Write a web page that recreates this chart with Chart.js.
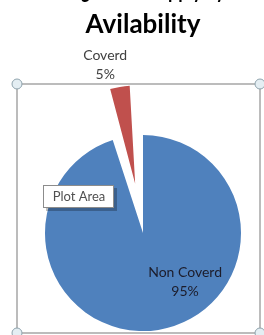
<!DOCTYPE html>
<html>
<head>
<meta charset="utf-8">
<script src="https://cdn.jsdelivr.net/npm/chart.js@4.4.0/dist/chart.umd.min.js"></script>
<style>
  html, body { margin: 0; padding: 0; background: #fff; overflow: hidden; }
  /* canvas is shifted up so the first title line is cut off like the screenshot */
  #wrap { position: absolute; left: 0; top: -30px; width: 264px; height: 365px; }
</style>
</head>
<body>
<div id="wrap"><canvas id="pie"></canvas></div>
<script>
// Supply system availability — pie chart

const titleLines = ['Drinking Water Supply System', 'Avilability'];
const categories = ['Non Coverd', 'Coverd'];
const shares = [95, 5];
const sliceColors = ['#4f81bd', '#c0504d'];
const explode = [0, 200];          // chart.js moves an arc by offset / 4
const labelShift = [-31.6, -3.7];  // degrees, label angle relative to slice middle
const labelReach = [0.66, 1.245];  // label distance as a share of the radius

const total = shares.reduce((a, b) => a + b, 0);

// keep the exploded slice the same size as the rest
const keepRadius = {
    id: 'keepRadius',
    beforeDatasetsDraw(chart) {
        const meta = chart.getDatasetMeta(0);
        const R = meta.controller.outerRadius;
        meta.data.forEach((arc, i) => {
            const sweep = arc.endAngle - arc.startAngle;
            const fix = 1 - Math.sin(Math.min(Math.PI, sweep));
            arc.outerRadius = R - fix * explode[i] / 4;
        });
    }
};

// selected plot area frame with its corner handles
const plotFrame = {
    id: 'plotFrame',
    beforeDatasetsDraw(chart) {
        const ctx = chart.ctx;
        ctx.save();
        ctx.strokeStyle = '#a6a6a6';
        ctx.lineWidth = 1.5;
        ctx.strokeRect(17, 114, 243, 249);
        ctx.restore();
    },
    afterDatasetsDraw(chart) {
        const ctx = chart.ctx;
        ctx.save();
        [[17, 114], [260, 114], [17, 363], [260, 363]].forEach(([x, y]) => {
            ctx.beginPath();
            ctx.arc(x, y, 5, 0, Math.PI * 2);
            ctx.fillStyle = '#e4eef3';
            ctx.fill();
            ctx.strokeStyle = '#8fa3ad';
            ctx.lineWidth = 1;
            ctx.stroke();
        });
        ctx.restore();
    }
};

const sliceLabels = {
    id: 'sliceLabels',
    afterDatasetsDraw(chart) {
        const ctx = chart.ctx;
        const meta = chart.getDatasetMeta(0);
        ctx.save();
        ctx.font = '14px Lato';
        ctx.textAlign = 'center';
        ctx.textBaseline = 'middle';
        meta.data.forEach((arc, i) => {
            const mid = (arc.startAngle + arc.endAngle) / 2;
            const a = mid + labelShift[i] * Math.PI / 180;
            const d = explode[i] / 4 + labelReach[i] * meta.controller.outerRadius;
            const x = arc.x + Math.cos(a) * d;
            const y = arc.y + Math.sin(a) * d;
            ctx.fillStyle = i === 0 ? '#1c1c2a' : '#404040';
            ctx.fillText(categories[i], x, y - 9.5);
            ctx.fillText(Math.round(shares[i] / total * 100) + '%', x, y + 9.5);
        });
        ctx.restore();
    }
};

// "Plot Area" hover note from the screenshot
const plotNote = {
    id: 'plotNote',
    afterDraw(chart) {
        const ctx = chart.ctx;
        ctx.save();
        ctx.fillStyle = 'rgba(0,0,0,0.25)';
        ctx.fillRect(46, 218, 71, 23);
        ctx.fillStyle = '#fff';
        ctx.fillRect(43, 215, 71, 23);
        ctx.strokeStyle = '#8c8c8c';
        ctx.lineWidth = 1;
        ctx.strokeRect(43.5, 215.5, 70, 22);
        ctx.fillStyle = '#505050';
        ctx.font = '13px Lato';
        ctx.textAlign = 'center';
        ctx.textBaseline = 'middle';
        ctx.fillText('Plot Area', 79, 227);
        ctx.restore();
    }
};

new Chart(document.getElementById('pie'), {
    type: 'pie',
    data: {
        labels: categories,
        datasets: [{
            data: shares,
            backgroundColor: sliceColors,
            borderWidth: 0,
            offset: explode,
            radius: 98
        }]
    },
    options: {
        responsive: true,
        maintainAspectRatio: false,
        animation: false,
        events: [],
        layout: { padding: { left: 22, right: 0, top: 0, bottom: 0 } },
        plugins: {
            legend: { display: false },
            tooltip: { enabled: false },
            title: {
                display: true,
                text: titleLines,
                color: '#000',
                font: { family: 'Lato', size: 26, weight: 'bold', lineHeight: 1.35 },
                padding: { top: 2, bottom: 89 }
            }
        }
    },
    plugins: [keepRadius, plotFrame, sliceLabels, plotNote]
});
</script>
</body>
</html>
